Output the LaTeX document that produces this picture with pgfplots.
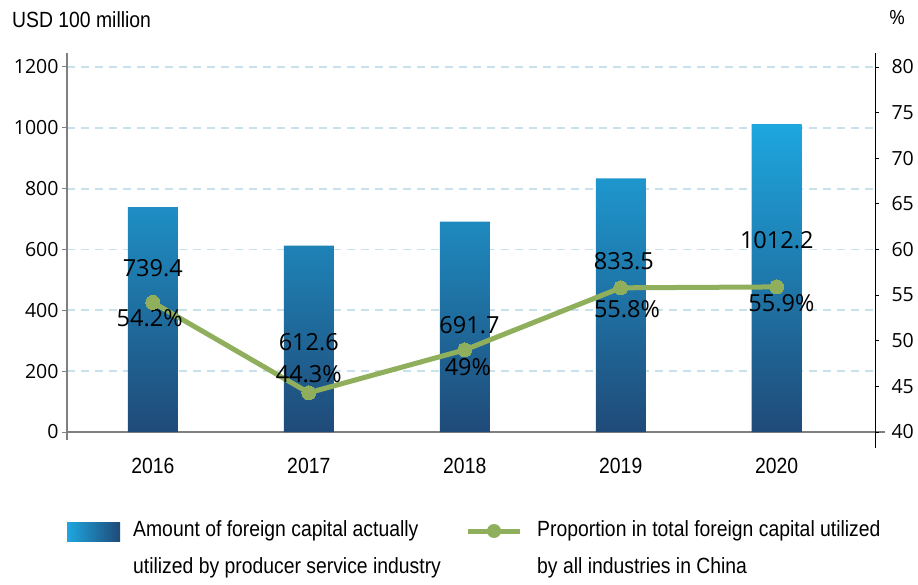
\documentclass[border=0pt]{standalone}
\usepackage{pgfplots}
\pgfplotsset{compat=1.18}
\usepackage{fontspec}
\setmainfont{Open Sans}
\newfontfamily\narrow[FakeStretch=0.88]{Liberation Sans}
\definecolor{bartop}{HTML}{1EA7DF}
\definecolor{barbot}{HTML}{1F4A78}
\definecolor{lgreen}{HTML}{90AF5C}
\definecolor{gridc}{HTML}{C8E2EC}
\begin{document}
\begin{tikzpicture}[x=1pt,y=1pt]
\begin{axis}[
  at={(67pt,152pt)}, anchor=south west,
  scale only axis, width=808pt, height=365pt,
  xmin=-0.55, xmax=4.63, ymin=0, ymax=1200,
  axis x line*=bottom, axis y line*=left,
  axis line style={-, draw=gray, line width=1.1pt},
  y axis line style={shorten <=-8pt, shorten >=-14pt},
  x axis line style={shorten >=-10pt},
  xtick={0,1,2,3,4}, xticklabels={2016,2017,2018,2019,2020},
  xtick style={draw=none},
  xticklabel style={font=\narrow\fontsize{22}{24}\selectfont, yshift=-18pt},
  ytick={0,200,...,1200},
  ytick style={draw=gray, line width=1pt},
  tick align=outside, major tick length=5pt,
  yticklabel style={font=\fontsize{19.5}{22}\selectfont},
  /pgf/number format/assume math mode=true,
  /pgf/number format/1000 sep={},
  ymajorgrids, grid style={gridc, dash pattern=on 8pt off 6pt, line width=1.8pt},
]
\addplot[ybar, bar width=50pt, draw=none, top color=bartop, bottom color=barbot]
  coordinates {(0,739.4) (1,612.6) (2,691.7) (3,833.5) (4,1012.2)};
\end{axis}
\begin{axis}[
  at={(67pt,152pt)}, anchor=south west,
  scale only axis, width=808pt, height=365pt,
  xmin=-0.55, xmax=4.63, ymin=40, ymax=80,
  axis y line*=right, axis x line=none,
  axis line style={-, draw=black, line width=1pt, shorten <=-16pt, shorten >=-14pt},
  ytick={40,45,...,80},
  ytick style={draw=black, line width=0.8pt},
  tick align=outside, major tick length=4pt,
  yticklabel style={font=\fontsize{19.5}{22}\selectfont, xshift=9pt},
  /pgf/number format/assume math mode=true,
]
\addplot[lgreen, line width=5pt, mark=*, mark size=7pt, mark options={fill=lgreen, draw=lgreen, line width=0pt}]
  coordinates {(0,54.2) (1,44.3) (2,49) (3,55.8) (4,55.9)};
\begin{scope}[every node/.style={font=\fontsize{23.5}{26}\selectfont, inner sep=0pt}]
\node at (axis cs:0,57.97) {739.4};
\node at (axis cs:-0.02,52.49) {54.2\%};
\node at (axis cs:1.0,49.86) {612.6};
\node at (axis cs:1.0,46.36) {44.3\%};
\node at (axis cs:2.03,51.73) {691.7};
\node at (axis cs:2.02,47.12) {49\%};
\node at (axis cs:3.02,58.74) {833.5};
\node at (axis cs:3.04,53.48) {55.8\%};
\node at (axis cs:4.0,61.04) {1012.2};
\node at (axis cs:4.03,54.14) {55.9\%};
\end{scope}
\end{axis}
\node[anchor=west, inner sep=0pt, font=\narrow\fontsize{22}{24}\selectfont] at (12,564) {USD 100 million};
\node[anchor=west, inner sep=0pt, font=\fontsize{19.5}{22}\selectfont] at (889,566) {\%};
% legend
\shade[left color=bartop, right color=barbot] (67,43) rectangle (120,62);
\node[anchor=west, inner sep=0pt, align=left, font=\narrow\fontsize{22}{37}\selectfont] at (133,34.5) {Amount of foreign capital actually\\utilized by producer service industry};
\draw[lgreen, line width=5pt] (468,53) -- (520,53);
\fill[lgreen] (494,53) circle (7);
\node[anchor=west, inner sep=0pt, align=left, font=\narrow\fontsize{22}{37}\selectfont] at (537,34.5) {Proportion in total foreign capital utilized\\by all industries in China};
\pgfresetboundingbox
\path[use as bounding box] (0,0) rectangle (918,584);
\end{tikzpicture}
\end{document}
